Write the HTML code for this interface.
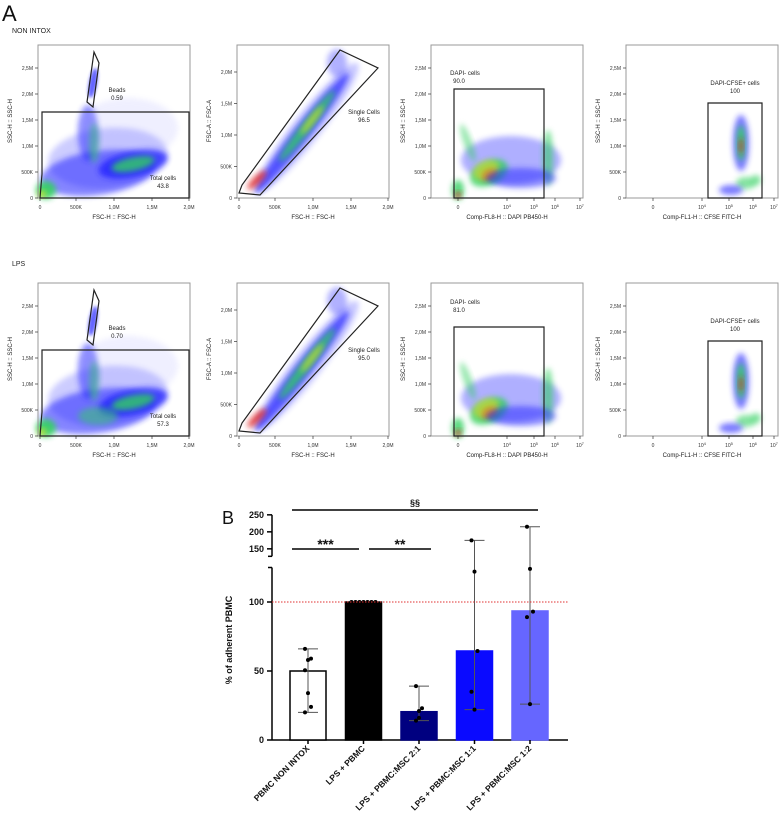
<!DOCTYPE html>
<html><head><meta charset="utf-8">
<style>
body{margin:0;background:#fff;width:784px;height:822px;overflow:hidden;font-family:"Liberation Sans",sans-serif}
svg{position:absolute;left:0;top:0}
</style></head>
<body>
<svg id="fig" width="784" height="822" viewBox="0 0 784 822" xmlns="http://www.w3.org/2000/svg">
<defs>
<filter id="bl" x="-50%" y="-50%" width="200%" height="200%"><feGaussianBlur stdDeviation="3"/></filter>
<filter id="bl2" x="-50%" y="-50%" width="200%" height="200%"><feGaussianBlur stdDeviation="1.5"/></filter>
</defs>
<text x="2" y="21" font-size="22" fill="#111">A</text>
<text x="12" y="33" font-size="7" fill="#222">NON INTOX</text>
<text x="12" y="266" font-size="7" fill="#222">LPS</text>
<g id="flow"></g>
<g id="bars"></g>
</svg>
<script>
// ---------- Bar chart data ----------
const categories=["PBMC NON INTOX","LPS + PBMC","LPS + PBMC:MSC 2:1","LPS + PBMC:MSC 1:1","LPS + PBMC:MSC 1:2"];
const means=[50,100,20.5,64.5,93.5];
const errLow=[20,100,14,22,26];
const errHigh=[66,100,39,175,215];
const points=[[66,58,59,50.5,34,24,20],[100,100,100,100,100,100,100],[39,21,23,14,16],[175,122,64.5,35,22],[215,124,93,89,26]];
const barColors=["#ffffff","#000000","#000080","#0a0aff","#6666ff"];
const upperTicks=[150,200,250];
const lowerTicks=[0,50,100];
const refLine=100;

const NS="http://www.w3.org/2000/svg";
function mk(tag,attrs,parent,txt){const e=document.createElementNS(NS,tag);for(const k in attrs)e.setAttribute(k,attrs[k]);if(txt!==undefined)e.textContent=txt;parent.appendChild(e);return e;}

// ---------- Flow panels (decorative density images) ----------
const flow=document.getElementById('flow');
function panel(ox,oy,cfg){
  const g=mk('g',{},flow);
  
  
  const L=ox,R=ox+152,T=oy,B=oy+153;
  cfg.blobs.forEach(b=>{
    mk('ellipse',{cx:L+b[0],cy:B-b[1],rx:b[2],ry:b[3],fill:b[4],opacity:b[5],transform:`rotate(${b[6]||0} ${L+b[0]} ${B-b[1]})`,filter:b[7]?'url(#bl2)':'url(#bl)'},g);
  });
  mk('rect',{x:L,y:T,width:152,height:153,fill:'none',stroke:'#999','stroke-width':1},g);
  cfg.yt.forEach((t,i)=>{const y=B-t[1];mk('line',{x1:L-3,x2:L,y1:y,y2:y,stroke:'#333','stroke-width':0.7},g);mk('text',{x:L-5,y:y+2,'font-size':5,'text-anchor':'end',fill:'#333'},g,t[0]);});
  cfg.xt.forEach(t=>{const x=L+t[1];mk('line',{x1:x,x2:x,y1:B,y2:B+3,stroke:'#333','stroke-width':0.7},g);
    const tx=mk('text',{x:x,y:B+11,'font-size':5,'text-anchor':'middle',fill:'#333'},g,t[0]);
    if(t[2]){mk('tspan',{dy:-2,'font-size':4},tx,t[2]);}});
  const yl=mk('text',{x:L-26,y:T+76,'font-size':6,'text-anchor':'middle',fill:'#222',transform:`rotate(-90 ${L-26} ${T+76})`},g,cfg.ylab);
  
  
  const xl=mk('text',{x:L+76,y:B+21,'font-size':6,'text-anchor':'middle',fill:'#222'},g,cfg.xlab);
  
  
  cfg.gates.forEach(p=>{mk('polygon',{points:p.map(q=>(L+q[0])+','+(B-q[1])).join(' '),fill:'none',stroke:'#222','stroke-width':1.2},g);});
  cfg.labels.forEach(l=>{mk('text',{x:L+l[0],y:B-l[1],'font-size':6,'text-anchor':'middle',fill:'#222'},g,l[2]);});
}
const linY=[["0",0],["500K",26],["1,0M",52],["1,5M",78],["2,0M",104],["2,5M",130]];
const linX=[["0",2],["500K",38],["1,0M",76],["1,5M",114],["2,0M",151]];
const y2=[["0",0],["500K",31.5],["1,0M",63],["1,5M",94.5],["2,0M",126]];
const logX4=[["0",27],["10",76,"4"],["10",103,"5"],["10",127,"6"],["10",148,"7"]];
const log3=[["0",27],["10",76,"4"],["10",103,"5"],["10",124,"6"],["10",149,"7"]];
const B='#2020ff',G='#30d060',Y='#e0e020',Rd='#e02020';
function rowPanels(oy,r){
  const lps=r==1;
  panel(38,oy,{name:'scatter-total-cells',ylab:'SSC-H :: SSC-H',xlab:'FSC-H :: FSC-H',yt:linY,xt:linX,
    blobs:[[70,40,60,30,'#5a5aff',0.3,-5],[60,25,58,22,B,0.55,-8],[50,65,10,28,B,0.5,0],[95,34,35,13,B,0.8,-12],[95,34,22,7,G,0.8,-12],[56,55,5,20,G,0.5,0],[8,8,10,9,G,0.9,0],[4,4,4,3,Y,0.9,0],[55,115,4,15,B,0.7,10,1],[90,70,50,30,'#8080ff',0.12,0]].concat(lps?[[60,20,20,9,G,0.5,0]]:[]),
    gates:[[[2,0],[151,0],[151,86],[4,86],[4,24]],[[49,96],[56,146],[61,135],[55,91]]],
    labels:[[79,106,'Beads'],[79,98,lps?'0.70':'0.59'],[125,18,'Total cells'],[125,10,lps?'57.3':'43.8']]});
  panel(237,oy,{name:'scatter-single-cells',ylab:'FSC-A :: FSC-A',xlab:'FSC-H :: FSC-H',yt:y2,xt:linX,
    blobs:[[70,70,82,14,'#6060ff',0.35,-52],[65,65,76,8,B,0.7,-52],[70,72,45,5,G,0.8,-52],[20,18,13,4,Rd,0.8,-45],[75,78,18,3,Y,0.7,-52],[100,135,10,14,B,0.35,0]],
    gates:[[[2,5],[5,13],[103,148],[141,130],[23,3]]],
    labels:[[127,84,'Single Cells'],[127,76,lps?'95.0':'96.5']]});
  panel(431,oy,{name:'scatter-dapi-negative',ylab:'SSC-H :: SSC-H',xlab:'Comp-FL8-H :: DAPI PB450-H',yt:linY,xt:log3,
    blobs:[[80,38,50,24,'#5050ff',0.45,0],[58,25,20,12,G,0.8,-25],[58,24,8,5,Rd,0.9,-25],[55,28,14,9,Y,0.6,-25],[37,55,4,20,G,0.5,-20],[27,8,6,10,G,0.8,0],[27,3,3,3,Rd,0.9,0],[117,40,5,28,G,0.6,0],[90,20,35,10,B,0.5,0]],
    gates:[[[23,0],[113,0],[113,109],[23,109]]],
    labels:[[34,lps?132:123,'DAPI- cells'],[28,lps?124:115,lps?'81.0':'90.0']]});
  panel(626,oy,{name:'scatter-dapi-cfse-positive',ylab:'SSC-H :: SSC-H',xlab:'Comp-FL1-H :: CFSE FITC-H',yt:linY,xt:logX4,
    blobs:[[115,55,8,28,B,0.6,0],[115,55,4,18,G,0.9,0],[115,52,2,8,Rd,0.8,0],[120,15,10,6,G,0.6,0],[105,8,12,5,B,0.6,0],[130,18,5,5,G,0.6,0]],
    gates:[[[82,0],[136,0],[136,95],[82,95]]],
    labels:[[109,113,'DAPI-CFSE+ cells'],[109,105,'100']]});
}
rowPanels(45,0);rowPanels(283,1);

// ---------- Bar chart ----------
const bars=document.getElementById('bars');
const X0=272,X1=568;
function yS(v){return v<=126?740-v*1.38:557-(v-126)*0.34;}
function xC(i){return 308+i*55.5;}
const bw=36;
mk('text',{x:222,y:524,'font-size':18,fill:'#111'},bars,'B');
const yt=mk('text',{x:232,y:640,'font-size':9,'font-weight':'bold','text-anchor':'middle',fill:'#111',transform:'rotate(-90 232 640)'},bars,'% of adherent PBMC');


mk('line',{x1:X0,x2:X0,y1:yS(0),y2:yS(125),stroke:'#000','stroke-width':1.5},bars);
mk('line',{x1:X0-4,x2:X0,y1:yS(125),y2:yS(125),stroke:'#000','stroke-width':1.5},bars);
mk('line',{x1:X0,x2:X0,y1:yS(128),y2:yS(250),stroke:'#000','stroke-width':1.5},bars);
mk('line',{x1:X0-4,x2:X0,y1:yS(128),y2:yS(128),stroke:'#000','stroke-width':1.5},bars);
lowerTicks.concat(upperTicks).forEach(t=>{const y=yS(t);
  mk('line',{x1:X0-5,x2:X0,y1:y,y2:y,stroke:'#000','stroke-width':1.5},bars);
  const tt=mk('text',{x:X0-8,y:y+3,'font-size':9,'font-weight':'bold','text-anchor':'end',fill:'#111'},bars,t);
  
  });
mk('line',{x1:X0,x2:X1,y1:yS(0),y2:yS(0),stroke:'#000','stroke-width':1.5},bars);
categories.forEach((c,i)=>{
  const x=xC(i);
  const r=mk('rect',{x:x-bw/2,y:yS(means[i]),width:bw,height:yS(0)-yS(means[i]),fill:barColors[i],stroke:i==0?'#000':barColors[i],'stroke-width':1.5},bars);
  
  
  mk('line',{x1:x,x2:x,y1:yS(errLow[i]),y2:yS(errHigh[i]),stroke:i==1?'#000':'#555','stroke-width':1},bars);
  [errLow[i],errHigh[i]].forEach(v=>mk('line',{x1:x-10,x2:x+10,y1:yS(v),y2:yS(v),stroke:i==1?'#000':'#555','stroke-width':1},bars));
  points[i].forEach((p,j)=>{const d=mk('circle',{cx:x+(i==1?(j-3)*4:((j%3)-1)*3),cy:yS(p),r:2,fill:'#000'},bars);
    
    });
  mk('line',{x1:x,x2:x,y1:yS(0),y2:yS(0)+4,stroke:'#000','stroke-width':1.5},bars);
  const lx=x+2,ly=yS(0)+9;
  const t=mk('text',{x:lx,y:ly,'font-size':8.5,'font-weight':'bold','text-anchor':'end',fill:'#111',transform:`rotate(-45 ${lx} ${ly})`},bars,c);
  
  
});
const rl=mk('line',{x1:X0,x2:X1,y1:yS(refLine),y2:yS(refLine),stroke:'#e03030','stroke-width':1,'stroke-dasharray':'1.5,1.5'},bars);


[[292,538,510,'§§',506,9],[292,359,549,'***',545,14],[369,431,549,'**',545,14]].forEach(s=>{
  mk('line',{x1:s[0],x2:s[1],y1:s[2],y2:s[2],stroke:'#000','stroke-width':1.5},bars);
  const st=mk('text',{x:(s[0]+s[1])/2,y:s[4]+(s[5]>10?4:0),'font-size':s[5],'font-weight':'bold','text-anchor':'middle',fill:'#111'},bars,s[3]);
  
  
});
</script>
</body></html>
